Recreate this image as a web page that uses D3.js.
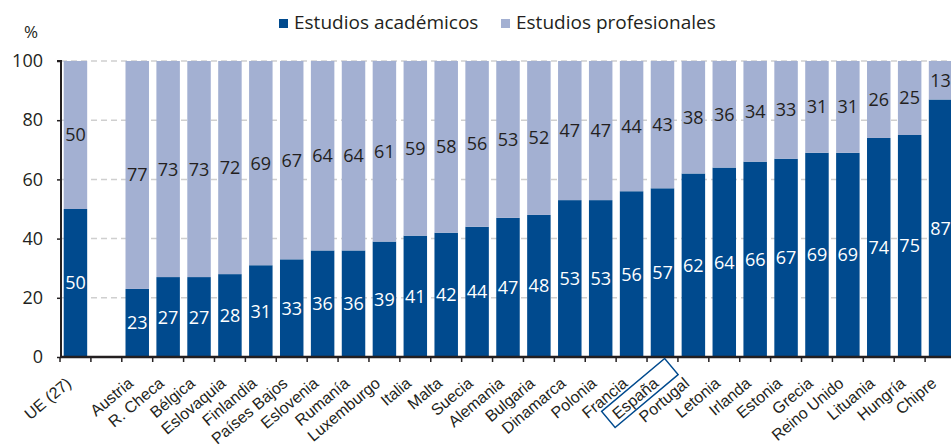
<!DOCTYPE html>
<html>
<head>
<meta charset="utf-8">
<script src="https://cdn.jsdelivr.net/npm/d3@7"></script>
<style>
  body { margin: 0; background: #fff; }
  svg { display: block; }
</style>
</head>
<body>
<div id="chart-container"></div>
<script>
const width = 951;
const height = 445;

const darkBlue = "#004a8e";
const lightBlue = "#a3b0d2";
const textColor = "#231f20";
const valueFont = "'Open Sans', sans-serif";
const labelFont = "'Liberation Sans', Arial, sans-serif";

// categories, "" is the empty slot between UE and the countries
const countries = ["UE (27)", "", "Austria", "R. Checa", "Bélgica", "Eslovaquia", "Finlandia",
  "Países Bajos", "Eslovenia", "Rumanía", "Luxemburgo", "Italia", "Malta", "Suecia", "Alemania",
  "Bulgaria", "Dinamarca", "Polonia", "Francia", "España", "Portugal", "Letonia", "Irlanda",
  "Estonia", "Grecia", "Reino Unido", "Lituania", "Hungría", "Chipre"];

const academicos = [50, null, 23, 27, 27, 28, 31, 33, 36, 36, 39, 41, 42, 44, 47, 48, 53, 53,
  56, 57, 62, 64, 66, 67, 69, 69, 74, 75, 87];

const profesionales = [50, null, 77, 73, 73, 72, 69, 67, 64, 64, 61, 59, 58, 56, 53, 52, 47, 47,
  44, 43, 38, 36, 34, 33, 31, 31, 26, 25, 13];

const yTicks = [0, 20, 40, 60, 80, 100];
const seriesNames = ["Estudios académicos", "Estudios profesionales"];
const highlighted = "España";

const plotLeft = 61;
const plotTop = 61;
const plotBottom = 357;
const labelAngle = -40;

function main() {
  const svg = d3.select("#chart-container")
    .append("svg")
    .attr("width", width)
    .attr("height", height)
    .attr("viewBox", [0, 0, width, height]);

  // one row per slot, built from the arrays above
  const rows = countries.map((c, i) => ({ key: c === "" ? "__gap" : c, name: c, a: academicos[i], p: profesionales[i] }));

  const x = d3.scaleBand()
    .domain(rows.map((d) => d.key))
    .range([60, 956])
    .paddingInner(0.24)
    .paddingOuter(0.12);

  const y = d3.scaleLinear()
    .domain([0, 100])
    .range([plotBottom, plotTop]);

  // dashed grid lines behind the bars
  svg.append("g")
    .selectAll("line")
    .data(yTicks.filter((t) => t > 0))
    .join("line")
    .attr("x1", plotLeft)
    .attr("x2", width)
    .attr("y1", (d) => y(d))
    .attr("y2", (d) => y(d))
    .attr("stroke", "#cfcfcf")
    .attr("stroke-width", 1.5)
    .attr("stroke-dasharray", "6,4");

  const bars = svg.append("g")
    .selectAll("g")
    .data(rows.filter((d) => d.a !== null))
    .join("g");

  bars.append("rect")
    .attr("x", (d) => x(d.key))
    .attr("width", x.bandwidth())
    .attr("y", (d) => y(d.a))
    .attr("height", (d) => y(0) - y(d.a))
    .attr("fill", darkBlue);

  bars.append("rect")
    .attr("x", (d) => x(d.key))
    .attr("width", x.bandwidth())
    .attr("y", (d) => y(d.a + d.p))
    .attr("height", (d) => y(d.a) - y(d.a + d.p))
    .attr("fill", lightBlue);

  // value labels sit in the middle of each segment
  bars.append("text")
    .attr("x", (d) => x(d.key) + x.bandwidth() / 2)
    .attr("y", (d) => y(d.a / 2))
    .attr("dy", "0.36em")
    .attr("text-anchor", "middle")
    .attr("fill", "#fff")
    .attr("font-family", valueFont)
    .attr("font-size", 18)
    .text((d) => d.a);

  bars.append("text")
    .attr("x", (d) => x(d.key) + x.bandwidth() / 2)
    .attr("y", (d) => y(d.a + d.p / 2))
    .attr("dy", "0.36em")
    .attr("text-anchor", "middle")
    .attr("fill", textColor)
    .attr("font-family", valueFont)
    .attr("font-size", 18)
    .text((d) => d.p);

  // y axis
  const yAxis = svg.append("g")
    .attr("transform", `translate(${plotLeft}, 0)`)
    .call(d3.axisLeft(y).tickValues(yTicks).tickSize(4).tickPadding(14));
  yAxis.select(".domain").attr("stroke", textColor).attr("stroke-width", 2).attr("d", `M-4,${plotTop}H0V${plotBottom}`);
  yAxis.selectAll(".tick line").attr("stroke", textColor).attr("stroke-width", 1.5);
  yAxis.selectAll(".tick text")
    .attr("fill", textColor)
    .attr("font-family", valueFont)
    .attr("font-size", 18);

  svg.append("text")
    .attr("x", 31)
    .attr("y", 38)
    .attr("text-anchor", "middle")
    .attr("fill", textColor)
    .attr("font-family", valueFont)
    .attr("font-size", 17)
    .text("%");

  // x axis: baseline, ticks between the slots, rotated names
  const xAxis = svg.append("g");
  xAxis.append("line")
    .attr("x1", plotLeft - 1)
    .attr("x2", width)
    .attr("y1", plotBottom)
    .attr("y2", plotBottom)
    .attr("stroke", textColor)
    .attr("stroke-width", 2.5);

  const step = x.step();
  const boundaries = rows.map((d) => x(d.key) - step * x.paddingInner() / 2);
  xAxis.selectAll("line.tick")
    .data(boundaries)
    .join("line")
    .attr("class", "tick")
    .attr("x1", (d) => d)
    .attr("x2", (d) => d)
    .attr("y1", plotBottom)
    .attr("y2", plotBottom + 5)
    .attr("stroke", textColor)
    .attr("stroke-width", 1.5);

  const labels = xAxis.selectAll("g.label")
    .data(rows.filter((d) => d.name !== ""))
    .join("g")
    .attr("class", "label")
    .attr("transform", (d) => `translate(${x(d.key) + x.bandwidth() / 2 - 3}, ${plotBottom + 28}) rotate(${labelAngle})`);

  labels.append("text")
    .attr("text-anchor", "end")
    .attr("fill", textColor)
    .attr("font-family", labelFont)
    .attr("font-size", 16)
    .text((d) => d.name);

  // box around the highlighted country
  labels.filter((d) => d.name === highlighted)
    .each(function () {
      const g = d3.select(this);
      const len = g.select("text").node().getComputedTextLength();
      g.insert("rect", "text")
        .attr("x", -len - 7)
        .attr("y", -17)
        .attr("width", len + 28)
        .attr("height", 21)
        .attr("fill", "none")
        .attr("stroke", darkBlue)
        .attr("stroke-width", 1.5);
    });

  // legend
  const legend = svg.append("g")
    .attr("transform", "translate(279, 0)");
  const legendX = [0, 222];
  const legendColors = [darkBlue, lightBlue];
  seriesNames.forEach((name, i) => {
    legend.append("rect")
      .attr("x", legendX[i])
      .attr("y", 19)
      .attr("width", 9)
      .attr("height", 9)
      .attr("fill", legendColors[i]);
    legend.append("text")
      .attr("x", legendX[i] + 15)
      .attr("y", 29)
      .attr("fill", textColor)
      .attr("font-family", valueFont)
      .attr("font-size", 19)
      .text(name);
  });
}

main();
</script>
</body>
</html>
